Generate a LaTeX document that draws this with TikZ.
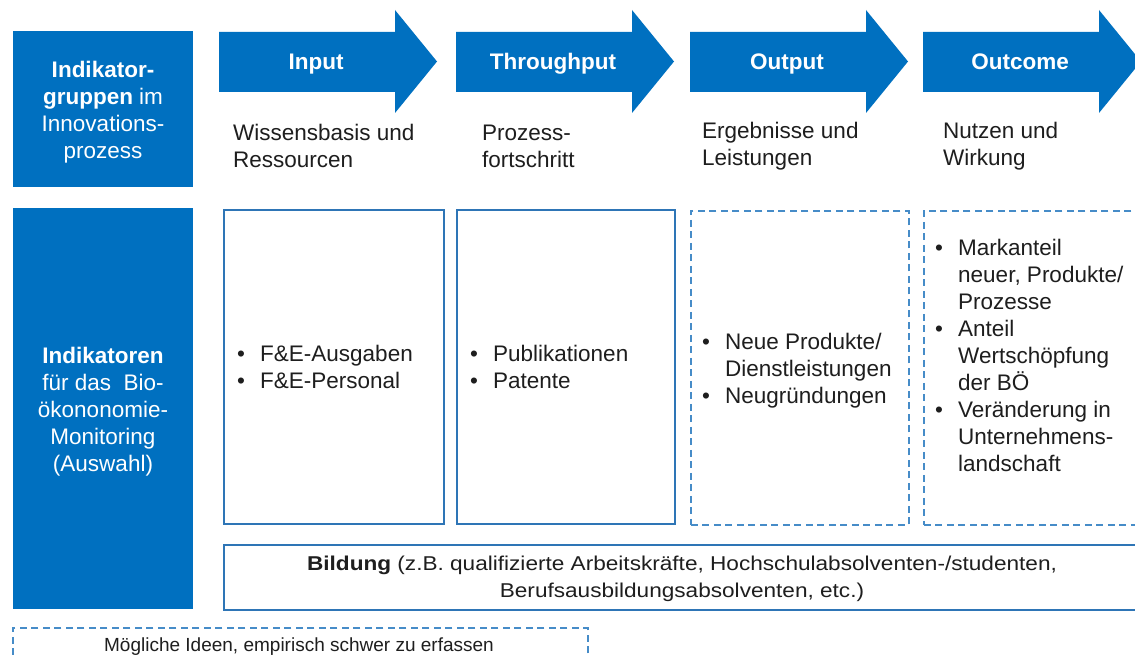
\documentclass[tikz,border=0pt]{standalone}
\usepackage{fontspec}
\setmainfont{Liberation Sans}
\newfontfamily\widesans[FakeStretch=1.13]{Liberation Sans}
\usetikzlibrary{positioning}

\definecolor{bmblue}{RGB}{0,112,192}
\definecolor{bmline}{RGB}{46,117,182}
\definecolor{bmdash}{RGB}{70,140,200}
\definecolor{bmtext}{RGB}{30,30,30}

\newcommand{\bulitem}{\makebox[23pt][l]{\textbullet}}
\newcommand{\bulcont}{\hspace*{23pt}}

\begin{document}
\begin{tikzpicture}[
  x=1pt, y=-1pt,
  groupbox/.style={fill=bmblue, inner sep=0pt},
  grouptext/.style={text=white, align=center, inner sep=0pt, font=\fontsize{22.5}{27}\selectfont},
  procarrow/.style={fill=bmblue},
  arrowlabel/.style={text=white, anchor=base, inner sep=0pt, font=\bfseries\fontsize{22.5}{27}\selectfont},
  desc/.style={text=bmtext, anchor=west, align=left, inner sep=0pt, font=\fontsize{22.5}{27}\selectfont},
  solidbox/.style={draw=bmline, line width=1.8pt, fill=white, anchor=north west, inner sep=0pt},
  dashbox/.style={draw=bmdash, line width=1.8pt, dash pattern=on 7pt off 4.5pt, anchor=north west, inner sep=0pt},
  smalltext/.style={text=bmtext, align=center, inner sep=0pt}
]
\clip (0,0) rectangle (1135,658);
\fill[white] (0,0) rectangle (1135,658);

% Indikatorgruppen (top row)
\node[groupbox, minimum width=180, minimum height=156] (groups) at (103,109) {};
\node[grouptext] (groupstext) at (103,112)
  {\textbf{Indikator-}\\\textbf{gruppen} im\\Innovations-\\prozess};

% Process arrows
\fill[procarrow] (219,32) -- (395,32) -- (395,10) -- (437,61.5) -- (395,113) -- (395,92) -- (219,92) -- cycle;
\fill[procarrow] (456,32) -- (632,32) -- (632,10) -- (674,61.5) -- (632,113) -- (632,92) -- (456,92) -- cycle;
\fill[procarrow] (690,32) -- (866,32) -- (866,10) -- (908,61.5) -- (866,113) -- (866,92) -- (690,92) -- cycle;
\fill[procarrow] (923,32) -- (1099,32) -- (1099,10) -- (1141,61.5) -- (1099,113) -- (1099,92) -- (923,92) -- cycle;

\node[arrowlabel] (input) at (316,70) {Input};
\node[arrowlabel] (throughput) at (553,70) {Throughput};
\node[arrowlabel] (output) at (787,70) {Output};
\node[arrowlabel] (outcome) at (1020,70) {Outcome};

% Descriptions below arrows
\node[desc] (inputdesc) at (233,146) {Wissensbasis und\\Ressourcen};
\node[desc] (throughputdesc) at (482,146) {Prozess-\\fortschritt};
\node[desc] (outputdesc) at (702,146) {Ergebnisse und\\Leistungen};
\node[desc] (outcomedesc) at (943,146) {Nutzen und\\Wirkung};

% Indikatoren (bottom row)
\node[groupbox, minimum width=180, minimum height=401] (indicators) at (103,408.5) {};
\node[grouptext] (indicatorstext) at (103,411.5)
  {\textbf{Indikatoren}\\für das~~Bio-\\ökononomie-\\Monitoring\\(Auswahl)};

\node[solidbox, minimum width=220, minimum height=314] (inputbox) at (223,209) {};
\node[solidbox, minimum width=218, minimum height=314] (throughputbox) at (456,209) {};
\node[dashbox, minimum width=218, minimum height=314] (outputbox) at (690,210) {};
\node[dashbox, minimum width=240, minimum height=314] (outcomebox) at (923,210) {};

\node[desc] (inputlist) at (237,367) {\bulitem F\&E-Ausgaben\\\bulitem F\&E-Personal};
\node[desc] (throughputlist) at (470,367) {\bulitem Publikationen\\\bulitem Patente};
\node[desc] (outputlist) at (702,371) {\bulitem Neue Produkte/\\\bulcont Dienstleistungen\\\bulitem Neugründungen};
\node[desc] (outcomelist) at (935,355) {\bulitem Markanteil\\\bulcont neuer, Produkte/\\\bulcont Prozesse\\\bulitem Anteil\\\bulcont Wertschöpfung\\\bulcont der BÖ\\\bulitem Veränderung in\\\bulcont Unternehmens-\\\bulcont landschaft};

% Bildung
\node[solidbox, minimum width=940, minimum height=65] (bildbox) at (223,544) {};
\node[smalltext, font=\widesans\fontsize{20}{27}\selectfont] (bildung) at (682,578.5)
  {\textbf{Bildung} (z.B. qualifizierte Arbeitskräfte, Hochschulabsolventen-/studenten,\\Berufsausbildungsabsolventen, etc.)};

% Legende
\node[dashbox, minimum width=575, minimum height=60] (legendbox) at (12,627) {};
\node[smalltext, font=\fontsize{19}{23}\selectfont] (legendtext) at (299,647) {Mögliche Ideen, empirisch schwer zu erfassen};

\end{tikzpicture}
\end{document}
